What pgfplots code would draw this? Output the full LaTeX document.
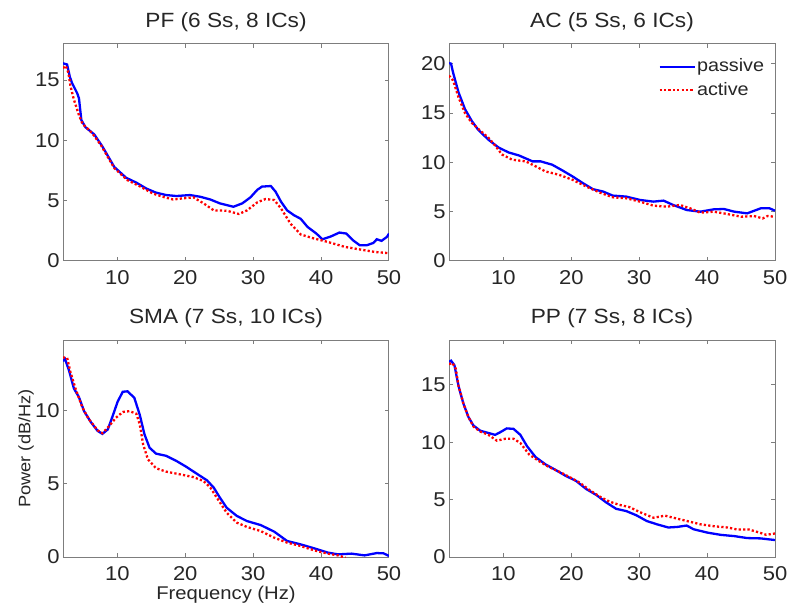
\documentclass[border=0pt]{standalone}
\usepackage{fontspec}
\setmainfont{Liberation Sans}[FakeStretch=1.1]
\usepackage{pgfplots}
\pgfplotsset{compat=1.18}

\definecolor{framegray}{RGB}{125,125,125}

\pgfplotsset{
  psd/.style={
    scale only axis,
    width=163pt, height=108.5pt,
    xmin=2, xmax=50, ymin=0,
    xtick={10,20,30,40,50},
    axis line style={framegray, line width=0.5pt},
    tick style={framegray, line width=0.5pt},
    tick align=inside, tick pos=both,
    major tick length=2pt,
    /pgf/number format/assume math mode=true,
    ticklabel style={font=\fontsize{10}{12}\selectfont, text=black!85},
    yticklabel style={inner xsep=1.5pt},
    xticklabel style={inner ysep=4.5pt},
    every axis title/.style={at={(axis description cs:0.5,1.0765)}, anchor=base,
      font=\fontsize{10.3}{12}\selectfont, text=black!85},
    every axis x label/.style={at={(axis description cs:0.5,-0.196)}, anchor=base,
      font=\fontsize{9.2}{11}\selectfont, text=black!85},
    every axis y label/.style={at={(axis description cs:-0.113,0.5)}, rotate=90, anchor=center,
      font=\fontsize{8.3}{10}\selectfont, text=black!85},
    clip=true,
  },
  passive/.style={blue, line width=1.15pt, mark=none},
  active/.style={red, line width=1.15pt, dash pattern=on 1.1pt off 1.1pt, mark=none},
}

\begin{document}
\begin{tikzpicture}
\useasboundingbox (0,0) rectangle (395pt,305.5pt);

% PF
\begin{axis}[psd, at={(31.5pt,175pt)}, anchor=south west,
  ymax=18, ytick={0,5,10,15}, title={PF (6 Ss, 8 ICs)}]
\addplot[passive] coordinates {
(2,16.4) (2.6,16.3) (3.0,15.3) (3.3,14.8) (4.1,13.9) (4.35,13.5) (4.7,11.7) (5.3,11.1)
(6.6,10.5) (7.8,9.5) (9.55,7.8) (11.3,6.9) (12.8,6.5) (14.3,6.0) (15.7,5.67) (17.2,5.47)
(18.7,5.39) (20.7,5.47) (22.2,5.33) (23.7,5.1) (25.1,4.78) (27.1,4.5) (28.4,4.78) (29.6,5.28)
(30.6,5.9) (31.3,6.17) (32.6,6.22) (33.3,5.75) (34.1,4.92) (35.0,4.2) (36.0,3.8) (37.0,3.5)
(38.0,2.83) (39.3,2.28) (40.2,1.8) (41.5,2.05) (42.7,2.36) (43.7,2.28) (44.7,1.72) (45.7,1.3)
(46.7,1.3) (47.7,1.5) (48.2,1.8) (48.9,1.67) (49.7,2.0) (50,2.28)
};
\addplot[active] coordinates {
(2,16.0) (2.4,16.2) (2.8,15.6) (3.1,14.5) (3.6,13.4) (4.35,12.1) (4.85,11.4) (6.3,10.6)
(7.6,9.6) (9.55,7.7) (11.5,6.7) (13.3,6.2) (15.2,5.6) (16.7,5.33) (18.2,5.1) (19.7,5.2)
(21.2,5.28) (22.7,4.78) (24.2,4.2) (26.1,4.17) (27.9,3.9) (29.1,4.2) (30.6,4.86) (31.8,5.14)
(33.1,5.06) (34.1,4.36) (35.5,3.1) (37.0,2.2) (39.0,1.86) (41.0,1.58) (43.5,1.17) (45.9,0.94)
(47.9,0.75) (50,0.65)
};
\end{axis}

% AC
\begin{axis}[psd, at={(224.5pt,175pt)}, anchor=south west,
  ymax=22, ytick={0,5,10,15,20}, title={AC (5 Ss, 6 ICs)},
  legend style={at={(axis description cs:0.99,0.958)}, anchor=north east,
    draw=none, fill=none, font=\fontsize{9}{11}\selectfont,
    nodes={inner sep=0.6pt, text=black!85}, row sep=2.5pt},
  legend cell align=left,
  legend image code/.code={\draw[#1] (0pt,0pt) -- (17.5pt,0pt);}]
\addplot[passive] coordinates {
(2,20.07) (2.3,20.0) (2.6,19.1) (3.4,17.1) (4.35,15.4) (5.35,14.2) (6.3,13.3) (7.8,12.3)
(9.3,11.5) (10.8,11.0) (12.3,10.7) (14.3,10.1) (15.5,10.1) (17.2,9.76) (18.7,9.18) (20.2,8.57)
(21.7,7.9) (23.2,7.28) (24.7,7.04) (26.1,6.63) (28.1,6.53) (30.1,6.19) (32.1,6.02) (33.6,6.12)
(35.0,5.68) (37.0,5.17) (39.0,5.0) (41.0,5.24) (42.5,5.27) (44.0,5.0) (45.9,4.83) (47.9,5.34)
(49.2,5.34) (50,5.1)
};
\addlegendentry{passive}
\addplot[active] coordinates {
(2,18.8) (2.6,18.3) (3.4,16.6) (4.35,15.0) (5.35,14.0) (6.3,13.4) (7.8,12.5) (8.8,11.7)
(9.8,10.8) (11.3,10.27) (13.3,10.1) (14.75,9.6) (16.2,9.08) (18.2,8.74) (20.2,8.23) (22.2,7.55)
(24.2,6.94) (26.1,6.46) (28.1,6.36) (30.1,6.02) (32.1,5.61) (34.1,5.51) (36.0,5.68) (37.5,5.34)
(39.0,4.9) (41.0,5.0) (43.0,4.76) (45.0,4.49) (46.9,4.56) (48.2,4.32) (48.9,4.56) (50,4.49)
};
\addlegendentry{active}
\end{axis}

% SMA
\begin{axis}[psd, at={(31.5pt,27pt)}, anchor=south west,
  ymax=14.8, ytick={0,5,10}, title={SMA (7 Ss, 10 ICs)},
  xlabel={Frequency (Hz)}, ylabel={Power (dB/Hz)}]
\addplot[passive] coordinates {
(2,13.36) (2.3,13.5) (2.9,12.7) (3.6,11.5) (4.35,10.9) (5.1,9.95) (6.1,9.2) (7.1,8.6)
(7.8,8.4) (8.6,8.7) (9.3,9.6) (10.05,10.6) (10.8,11.27) (11.5,11.3) (12.5,10.86) (13.3,9.7)
(14.0,8.36) (14.75,7.45) (15.7,7.05) (17.2,6.9) (18.7,6.55) (20.2,6.14) (21.7,5.68) (23.2,5.23)
(24.2,4.73) (25.1,4.05) (26.1,3.36) (27.6,2.8) (29.1,2.45) (31.1,2.18) (33.1,1.73) (35.0,1.09)
(37.0,0.86) (39.0,0.59) (41.0,0.3) (42.5,0.18) (44.5,0.23) (46.4,0.11) (48.2,0.27) (49.2,0.25)
(50,0.07)
};
\addplot[active] coordinates {
(2,13.6) (2.6,13.6) (3.1,12.6) (3.9,11.4) (4.85,10.2) (5.8,9.4) (7.1,8.64) (7.8,8.45)
(8.8,8.93) (9.8,9.5) (10.8,9.89) (11.8,9.95) (12.8,9.77) (13.3,9.05) (13.8,7.68) (14.5,6.66)
(15.7,6.05) (17.2,5.82) (19.2,5.64) (21.2,5.45) (22.7,5.18) (23.7,4.73) (24.65,4.05) (26.1,3.02)
(27.6,2.34) (29.1,2.05) (31.1,1.77) (33.1,1.32) (35.0,0.98) (37.0,0.75) (39.0,0.45) (41.0,0.23)
(42.5,0.11) (43.6,-0.05)
};
\end{axis}

% PP
\begin{axis}[psd, at={(224.5pt,27pt)}, anchor=south west,
  ymax=18.9, ytick={0,5,10,15}, title={PP (7 Ss, 8 ICs)}]
\addplot[passive] coordinates {
(2,17.0) (2.3,17.1) (2.8,16.7) (3.4,14.9) (4.1,13.4) (4.85,12.2) (5.6,11.45) (6.6,11.0)
(7.8,10.8) (8.8,10.64) (9.55,10.87) (10.5,11.2) (11.5,11.16) (12.5,10.64) (13.5,9.64) (14.75,8.7)
(16.2,8.07) (17.7,7.58) (19.2,7.06) (20.7,6.63) (22.2,5.92) (23.7,5.4) (25.1,4.77) (26.6,4.2)
(28.1,4.0) (29.6,3.63) (31.1,3.14) (32.6,2.85) (34.3,2.57) (35.6,2.62) (37.0,2.74) (38.0,2.42)
(40.0,2.13) (42.0,1.93) (44.0,1.82) (45.9,1.65) (47.9,1.62) (49.2,1.53) (50,1.48)
};
\addplot[active] coordinates {
(2,16.8) (2.5,16.9) (3.0,16.4) (3.4,14.9) (4.1,13.4) (4.85,12.2) (5.6,11.36) (6.6,10.93)
(7.8,10.64) (9.05,10.13) (10.3,10.3) (11.5,10.3) (12.5,9.93) (13.8,8.93) (15.25,8.35) (16.7,7.84)
(18.2,7.44) (19.7,6.98) (21.2,6.49) (22.7,5.83) (24.2,5.26) (25.6,4.83) (27.1,4.54) (28.6,4.34)
(30.1,3.91) (32.1,3.42) (33.8,3.6) (35.6,3.34) (37.0,3.14) (39.0,2.85) (41.0,2.68) (43.0,2.57)
(44.5,2.39) (46.2,2.39) (47.7,2.13) (48.7,1.93) (50,2.05)
};
\end{axis}
\end{tikzpicture}
\end{document}
